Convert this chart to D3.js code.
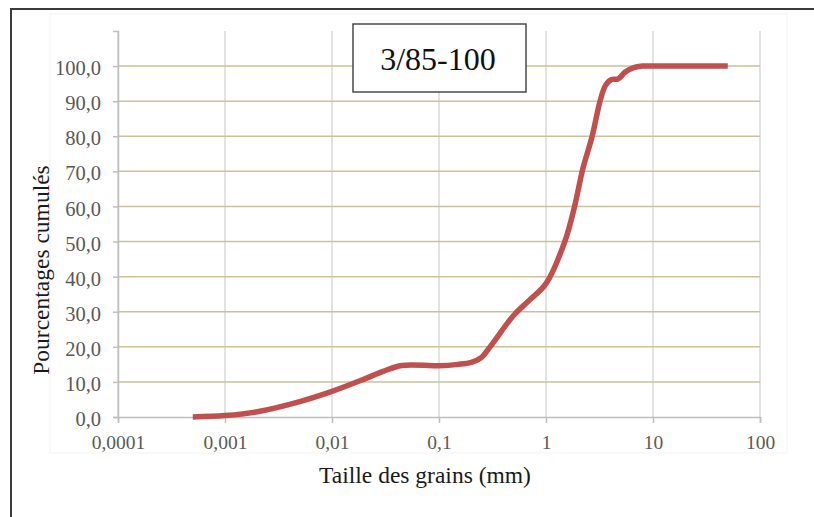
<!DOCTYPE html>
<html>
<head>
<meta charset="utf-8">
<script src="https://cdn.jsdelivr.net/npm/d3@7"></script>
<style>
  body { margin: 0; background: #fff; }
  svg { display: block; font-family: "Liberation Serif", "Times New Roman", serif; }
</style>
</head>
<body>
<div id="chart"></div>
<script>
// grain size distribution, sample 3/85-100
const grainSizes = [0.0005, 0.001, 0.002, 0.005, 0.01, 0.02, 0.03, 0.045, 0.1, 0.15, 0.2, 0.25, 0.3, 0.5, 0.7, 1, 1.5, 1.85, 2.2, 2.7, 3.2, 3.6, 4.1, 4.7, 5.5, 6.5, 8, 10, 50];
const cumulPercent = [0, 0.4, 1.5, 4.4, 7.3, 10.8, 13.0, 14.7, 14.6, 15.0, 15.6, 17.0, 20.0, 29.0, 33.3, 38.0, 50.0, 60.0, 70.5, 80.0, 90.0, 94.5, 96.2, 96.3, 98.3, 99.5, 100, 100, 100];
const xTicks = [0.0001, 0.001, 0.01, 0.1, 1, 10, 100];
const xTickLabels = ["0,0001", "0,001", "0,01", "0,1", "1", "10", "100"];
const yTicks = [0, 10, 20, 30, 40, 50, 60, 70, 80, 90, 100];

const width = 814, height = 517;
const plotLeft = 118, plotRight = 760, plotTop = 31, plotBottom = 417;

const fr = d3.formatLocale({ decimal: ",", thousands: " ", grouping: [3], currency: ["", " €"] });
const fmtY = fr.format(".1f");

const svg = d3.select("#chart").append("svg").attr("width", width).attr("height", height);

// outer frame (cut off right and bottom)
svg.append("rect").attr("x", 11).attr("y", 9).attr("width", 840).attr("height", 560)
  .attr("fill", "#fff").attr("stroke", "#3a3a3a").attr("stroke-width", 2);
// faint plot area outline
svg.append("rect").attr("x", 50).attr("y", 14).attr("width", 737).attr("height", 439)
  .attr("fill", "none").attr("stroke", "#f3f3f3").attr("stroke-width", 1);

const x = d3.scaleLog().domain([1e-4, 100]).range([plotLeft, plotRight]);
const y = d3.scaleLinear().domain([0, 110]).range([plotBottom, plotTop]);

// vertical grid
svg.append("g").selectAll("line").data(xTicks).enter().append("line")
  .attr("x1", d => x(d)).attr("x2", d => x(d))
  .attr("y1", plotTop).attr("y2", plotBottom)
  .attr("stroke", "#d9d9d9").attr("stroke-width", 1.5);

// horizontal grid
svg.append("g").selectAll("line").data(yTicks.slice(1)).enter().append("line")
  .attr("x1", plotLeft).attr("x2", plotRight)
  .attr("y1", d => y(d)).attr("y2", d => y(d))
  .attr("stroke", "#c9c29c").attr("stroke-width", 1.5);

// y axis
const yAxis = svg.append("g").attr("transform", `translate(${plotLeft},0)`)
  .call(d3.axisLeft(y).tickValues(yTicks).tickFormat(fmtY).tickSize(5).tickPadding(12));
yAxis.select(".domain").attr("stroke", "#bfbfbf").attr("stroke-width", 1.5);
yAxis.selectAll(".tick line").attr("stroke", "#bfbfbf").attr("stroke-width", 1.5);
yAxis.selectAll(".tick text").attr("font-size", 20.5).attr("fill", "#595959")
  .attr("font-family", "Liberation Serif, serif").attr("dy", "0.42em");

// x axis
const xAxis = svg.append("g").attr("transform", `translate(0,${plotBottom})`)
  .call(d3.axisBottom(x).tickValues(xTicks).tickFormat((d, i) => xTickLabels[i]).tickSize(6).tickPadding(12));
xAxis.select(".domain").attr("stroke", "#bfbfbf").attr("stroke-width", 1.5);
xAxis.selectAll(".tick line").attr("stroke", "#bfbfbf").attr("stroke-width", 1.5);
xAxis.selectAll(".tick text").attr("font-size", 19.5).attr("fill", "#595959")
  .attr("font-family", "Liberation Serif, serif");

// curve
const line = d3.line()
  .x((d, i) => x(grainSizes[i]))
  .y(d => y(d))
  .curve(d3.curveCatmullRom.alpha(0.5));
svg.append("path").datum(cumulPercent)
  .attr("d", line)
  .attr("fill", "none").attr("stroke", "#c0504d").attr("stroke-width", 5.5)
  .attr("stroke-linejoin", "round").attr("stroke-linecap", "butt");

// axis titles
svg.append("text").attr("x", 425).attr("y", 483).attr("text-anchor", "middle")
  .attr("font-size", 23.5).attr("fill", "#1a1a1a").text("Taille des grains (mm)");
svg.append("text").attr("transform", "translate(49,270) rotate(-90)").attr("text-anchor", "middle")
  .attr("font-size", 23.5).attr("fill", "#1a1a1a").text("Pourcentages cumulés");

// title box
svg.append("rect").attr("x", 353).attr("y", 24).attr("width", 173).attr("height", 68)
  .attr("fill", "#fff").attr("stroke", "#4a4a4a").attr("stroke-width", 1.5);
svg.append("text").attr("x", 438).attr("y", 70).attr("text-anchor", "middle")
  .attr("font-size", 32).attr("fill", "#111").text("3/85-100");
</script>
</body>
</html>
